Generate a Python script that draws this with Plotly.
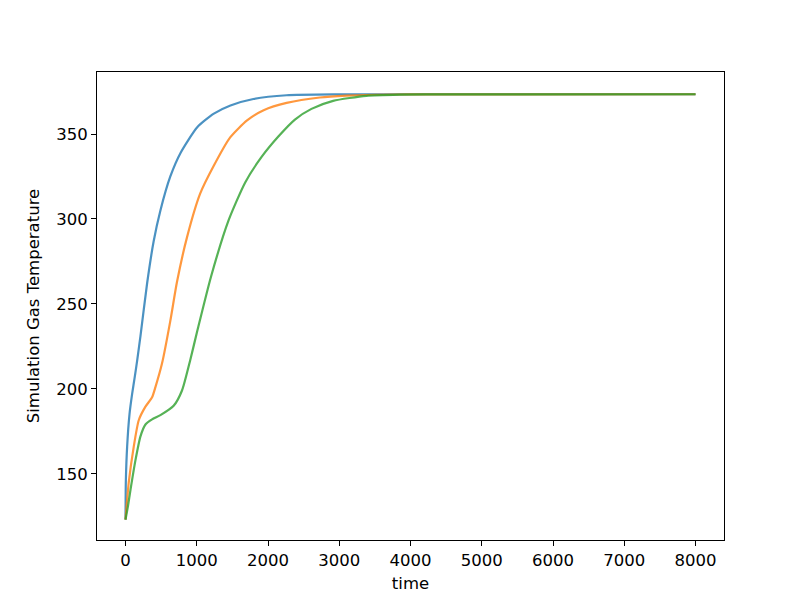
import plotly.graph_objects as go

# Series (time, temperature)
blue_t = [0, 2, 5, 23, 56, 93, 130, 165, 210, 303, 396, 490, 629, 774, 1007, 1240, 1473, 1795, 2261, 3000, 4000, 8000]
blue_y = [123, 135, 146, 166, 185, 197, 207, 217, 231, 262, 287, 305, 325, 339, 354, 362, 366.8, 370.6, 372.8, 373.3, 373.4, 373.4]

orange_t = [0, 46, 116, 186, 280, 373, 420, 513, 629, 723, 862, 1049, 1235, 1469, 1706, 1939, 2261, 2727, 3105, 3500, 4000, 8000]
orange_y = [123, 145, 166, 181.5, 189.5, 195, 201, 215, 240, 263, 289, 315, 331, 348, 358, 364, 368.3, 371.5, 372.6, 373.1, 373.3, 373.4]

green_t = [0, 35, 70, 140, 210, 280, 373, 490, 676, 793, 909, 1007, 1200, 1445, 1680, 1910, 2145, 2378, 2610, 2914, 3380, 3846, 4500, 8000]
green_y = [123, 131, 140.5, 158, 172, 179, 182, 184.5, 190, 199, 217, 234, 266, 299, 321.5, 336.5, 348.5, 358.5, 364.8, 369.5, 372.5, 373.2, 373.3, 373.4]

x_ticks = [0, 1000, 2000, 3000, 4000, 5000, 6000, 7000, 8000]
y_ticks = [150, 200, 250, 300, 350]

colors = ["#1f77b4", "#ff7f0e", "#2ca02c"]

fig = go.Figure()
for t, y, c in [(blue_t, blue_y, colors[0]), (orange_t, orange_y, colors[1]), (green_t, green_y, colors[2])]:
    fig.add_trace(go.Scatter(x=t, y=y, mode="lines", line=dict(color=c, width=2.2, shape="spline", smoothing=0.6),
                             opacity=0.8, showlegend=False))

font = dict(family="DejaVu Sans", size=16.5, color="black")
axis_common = dict(showline=True, linecolor="black", linewidth=1.1, mirror=True, ticks="outside",
                   ticklen=5, tickwidth=1.1, tickcolor="black", showgrid=False, zeroline=False,
                   tickfont=font, automargin=False)

fig.update_layout(
    width=800, height=604,
    margin=dict(l=89, r=84, t=64, b=72),
    paper_bgcolor="white", plot_bgcolor="white",
    xaxis=dict(range=[-400, 8400], tickvals=x_ticks, title=dict(text="time", font=font, standoff=8), **axis_common),
    yaxis=dict(range=[111, 386.5], tickvals=y_ticks, title=dict(text="Simulation Gas Temperature", font=font, standoff=12), **axis_common),
)

fig.write_html("out.html")
